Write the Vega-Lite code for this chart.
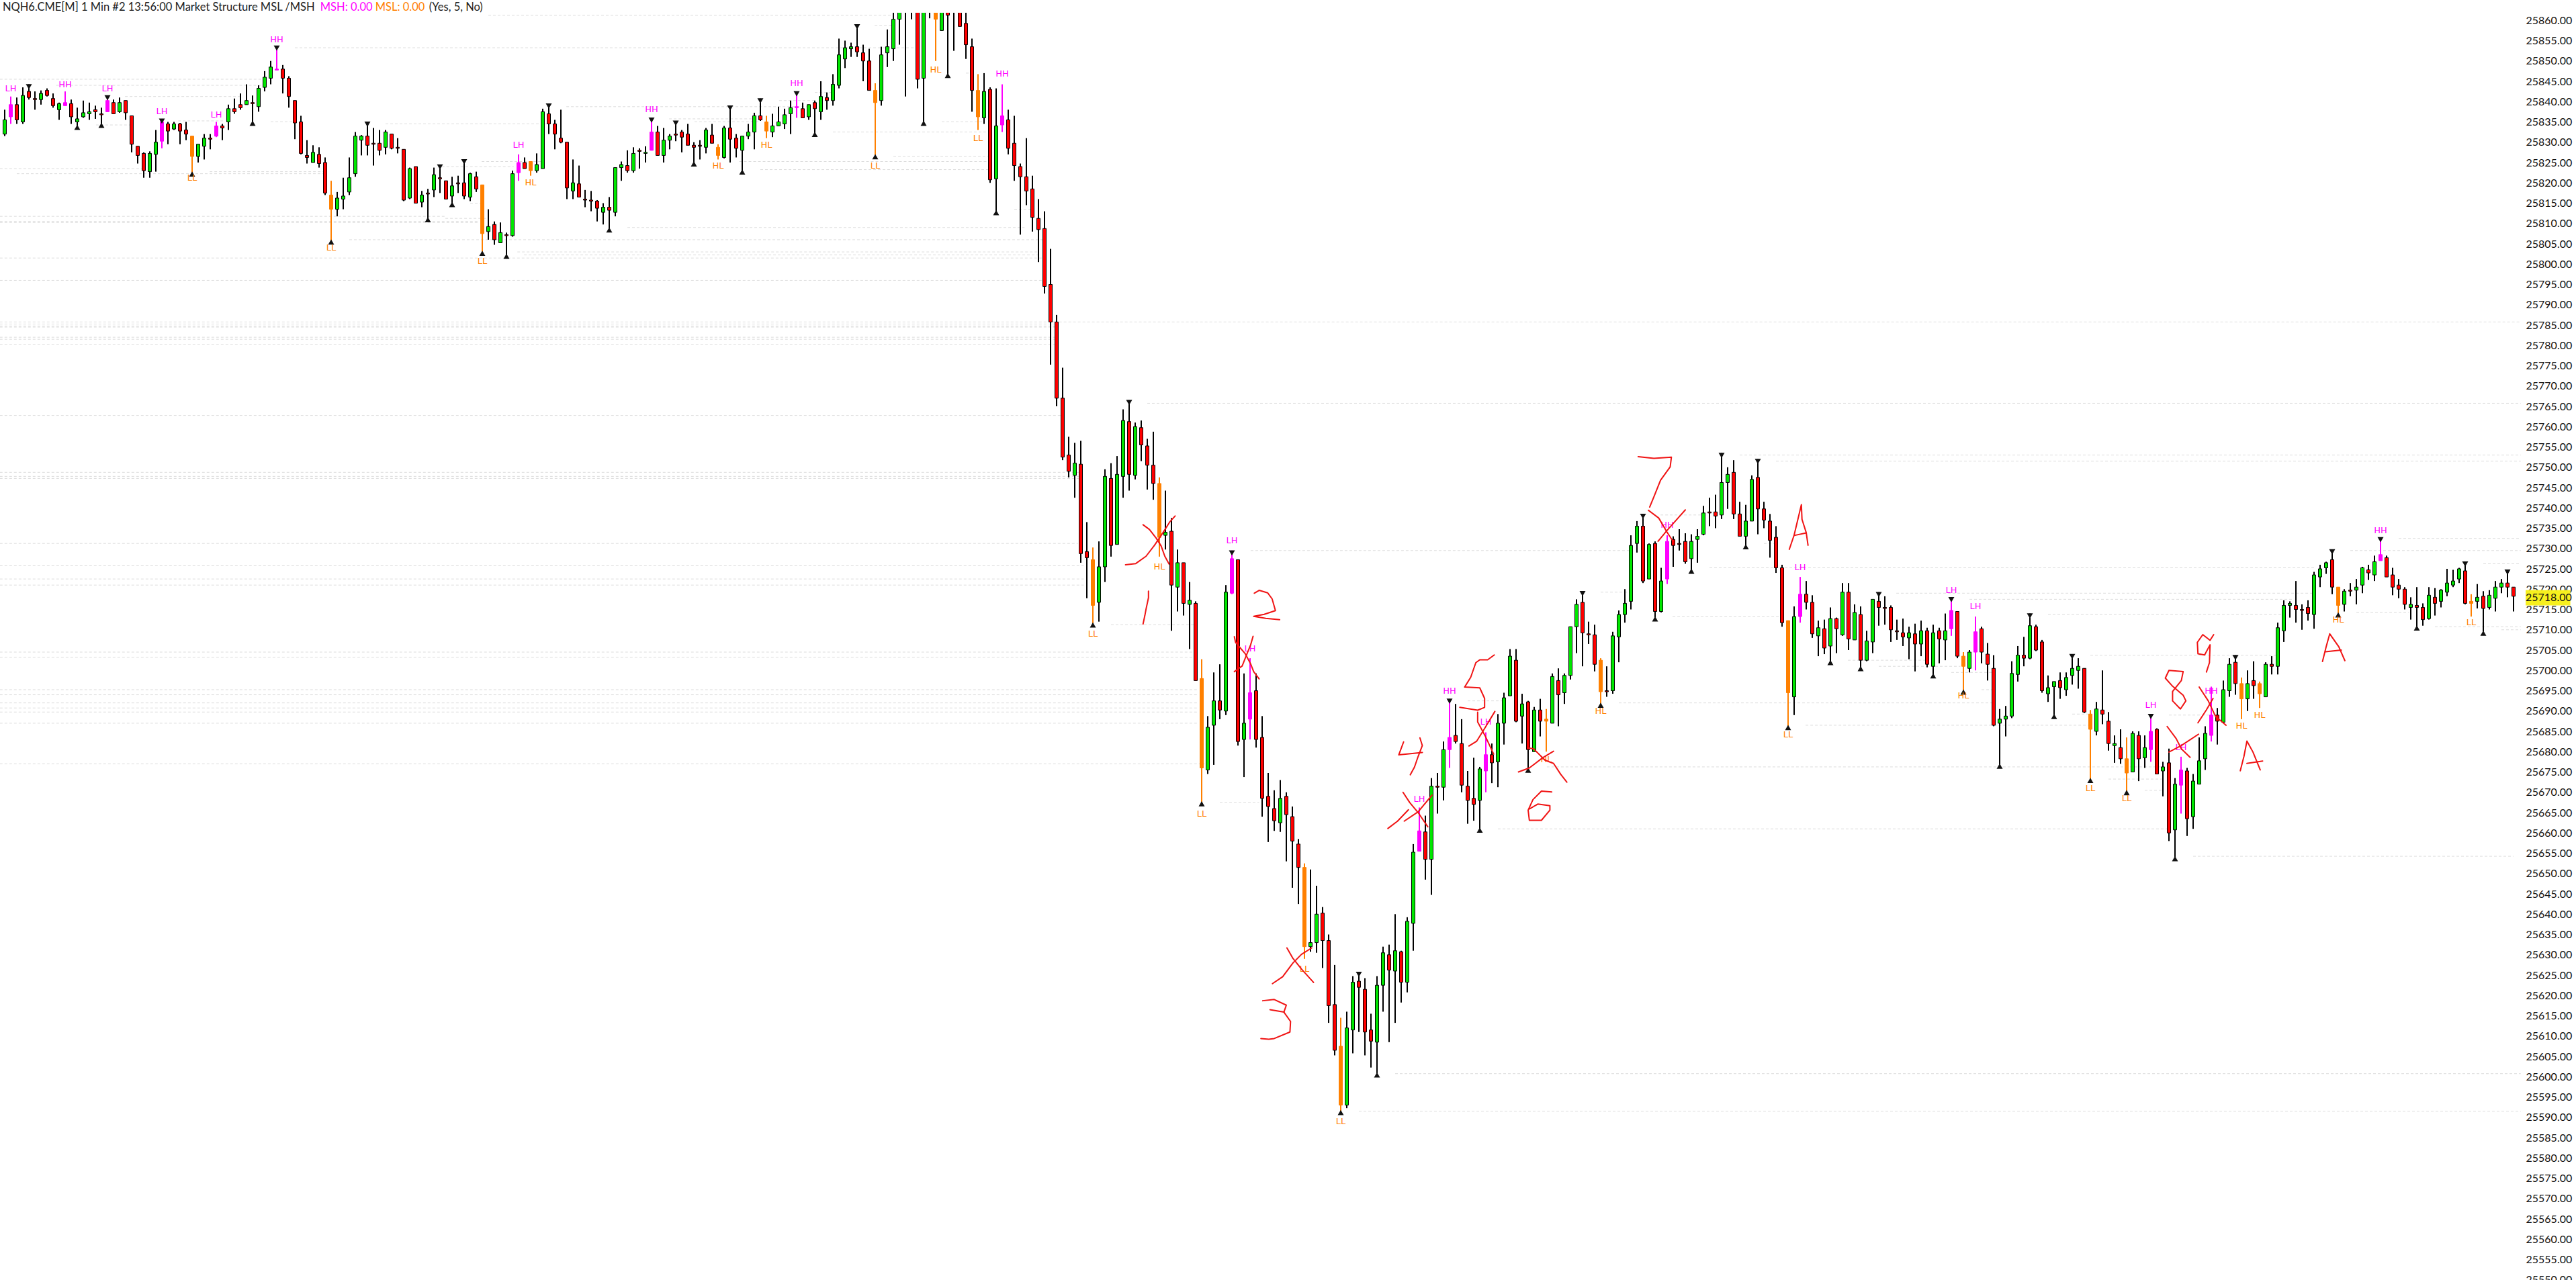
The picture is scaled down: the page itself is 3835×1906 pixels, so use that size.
{"$schema":"https://vega.github.io/schema/vega-lite/v6.json","width":3755,"height":1887,"autosize":{"type":"none"},"padding":{"left":0,"top":19,"right":80,"bottom":0},"background":"white","config":{"view":{"stroke":null},"scale":{"continuousPadding":0}},"resolve":{"axis":{"y":"independent"}},
"datasets":{"candles":[
{"i":0,"o":25832,"h":25838,"l":25831.5,"c":25835.5,"k":"u"},{"i":1,"o":25839.25,"h":25841.25,"l":25834.5,"c":25836.25,"k":"m"},{"i":2,"o":25839.25,"h":25841,"l":25834.5,"c":25835.5,"k":"d"},{"i":3,"o":25835,"h":25843.5,"l":25834.5,"c":25841.5,"k":"u"},{"i":4,"o":25842.5,"h":25844.25,"l":25840.5,"c":25841,"k":"d","t":"a"},{"i":5,"o":25840.75,"h":25842.5,"l":25838,"c":25840.5,"k":"d"},{"i":6,"o":25840.5,"h":25842.75,"l":25839.25,"c":25842,"k":"u"},{"i":7,"o":25842.75,"h":25843.25,"l":25841.25,"c":25841.5,"k":"d"},{"i":8,"o":25840.75,"h":25842,"l":25838.5,"c":25839,"k":"d"},{"i":9,"o":25838,"h":25839.75,"l":25835.5,"c":25839.5,"k":"u"},
{"i":10,"o":25839.75,"h":25842.5,"l":25839,"c":25839,"k":"m"},{"i":11,"o":25839.5,"h":25840.5,"l":25834.5,"c":25836.25,"k":"d"},{"i":12,"o":25835,"h":25838.5,"l":25834,"c":25835.75,"k":"u","t":"b"},{"i":13,"o":25836.25,"h":25840.25,"l":25836,"c":25837.25,"k":"u"},{"i":14,"o":25837,"h":25839.75,"l":25835.5,"c":25837.5,"k":"u"},{"i":15,"o":25838,"h":25839,"l":25835.75,"c":25837.5,"k":"d"},{"i":16,"o":25837,"h":25838.5,"l":25834.5,"c":25836.75,"k":"d","t":"b"},{"i":17,"o":25840.25,"h":25841.5,"l":25837.5,"c":25837.5,"k":"m","t":"a"},{"i":18,"o":25839.75,"h":25840.5,"l":25837,"c":25837,"k":"d"},{"i":19,"o":25837.5,"h":25841,"l":25837.25,"c":25839.75,"k":"u"},
{"i":20,"o":25840.25,"h":25840.25,"l":25835.5,"c":25837.25,"k":"d"},{"i":21,"o":25836.5,"h":25836.5,"l":25827.5,"c":25829.5,"k":"d"},{"i":22,"o":25829,"h":25829,"l":25824.75,"c":25826.75,"k":"d"},{"i":23,"o":25827.25,"h":25827.5,"l":25821.25,"c":25823,"k":"d"},{"i":24,"o":25822.75,"h":25827.75,"l":25821.25,"c":25827.25,"k":"u"},{"i":25,"o":25827,"h":25833,"l":25822.75,"c":25830,"k":"u"},{"i":26,"o":25835,"h":25835.75,"l":25828.5,"c":25830.25,"k":"m","t":"a"},{"i":27,"o":25834.5,"h":25835,"l":25829.5,"c":25832.75,"k":"d"},{"i":28,"o":25833.25,"h":25835,"l":25833,"c":25834.5,"k":"u"},{"i":29,"o":25834.5,"h":25834.75,"l":25829.5,"c":25832.75,"k":"d"},
{"i":30,"o":25833,"h":25835,"l":25830.5,"c":25832,"k":"d"},{"i":31,"o":25831.5,"h":25831.5,"l":25822.5,"c":25826.5,"k":"l","t":"b"},{"i":32,"o":25826.5,"h":25829.5,"l":25825,"c":25829.5,"k":"u"},{"i":33,"o":25829,"h":25832,"l":25825.75,"c":25831,"k":"u"},{"i":34,"o":25831,"h":25832,"l":25828.25,"c":25830.75,"k":"d"},{"i":35,"o":25834,"h":25835,"l":25831.25,"c":25831.5,"k":"m"},{"i":36,"o":25834,"h":25834.5,"l":25830.5,"c":25833.5,"k":"d"},{"i":37,"o":25835,"h":25839.25,"l":25833,"c":25838.25,"k":"u"},{"i":38,"o":25838.25,"h":25840.75,"l":25837,"c":25837.5,"k":"d"},{"i":39,"o":25839.25,"h":25842,"l":25838,"c":25838.5,"k":"d"},
{"i":40,"o":25839.25,"h":25844.25,"l":25839.25,"c":25840.25,"k":"u"},{"i":41,"o":25839.75,"h":25841.5,"l":25835,"c":25839.5,"k":"d","t":"b"},{"i":42,"o":25838.75,"h":25844,"l":25837.5,"c":25843.25,"k":"u"},{"i":43,"o":25843.5,"h":25847.5,"l":25842.5,"c":25846,"k":"u"},{"i":44,"o":25845.75,"h":25850,"l":25844.25,"c":25848.5,"k":"u"},{"i":45,"o":25848,"h":25853.75,"l":25847.75,"c":25847.75,"k":"m","t":"a"},{"i":46,"o":25848,"h":25849,"l":25842,"c":25845.75,"k":"d"},{"i":47,"o":25845.75,"h":25846.25,"l":25838.5,"c":25841.25,"k":"d"},{"i":48,"o":25840.25,"h":25840.25,"l":25830.75,"c":25834.75,"k":"d"},{"i":49,"o":25835,"h":25836.5,"l":25827,"c":25827.25,"k":"d"},
{"i":50,"o":25826.75,"h":25830.5,"l":25824.75,"c":25826.25,"k":"d"},{"i":51,"o":25825,"h":25829.25,"l":25825,"c":25827.5,"k":"u"},{"i":52,"o":25827,"h":25828.75,"l":25823.75,"c":25824.75,"k":"d"},{"i":53,"o":25825,"h":25826.25,"l":25817,"c":25817.5,"k":"d"},{"i":54,"o":25817,"h":25820.5,"l":25805.75,"c":25813.5,"k":"l","t":"b"},{"i":55,"o":25813.5,"h":25817.75,"l":25811.75,"c":25816.25,"k":"u"},{"i":56,"o":25816,"h":25821.25,"l":25813.5,"c":25816.75,"k":"u"},{"i":57,"o":25817.75,"h":25826.25,"l":25817,"c":25821.25,"k":"u"},{"i":58,"o":25822.25,"h":25832.5,"l":25821.5,"c":25831.5,"k":"u"},{"i":59,"o":25830.5,"h":25831.75,"l":25826.75,"c":25831.5,"k":"u"},
{"i":60,"o":25831.5,"h":25835,"l":25826.75,"c":25829.25,"k":"d","t":"a"},{"i":61,"o":25829.75,"h":25833.5,"l":25824.25,"c":25829.5,"k":"d"},{"i":62,"o":25829.75,"h":25833,"l":25826.75,"c":25828,"k":"d"},{"i":63,"o":25828.75,"h":25833,"l":25827,"c":25832.5,"k":"u"},{"i":64,"o":25832,"h":25832,"l":25828.25,"c":25828.5,"k":"d"},{"i":65,"o":25828.75,"h":25831,"l":25827.25,"c":25828.5,"k":"d"},{"i":66,"o":25828.25,"h":25828.25,"l":25815.5,"c":25815.75,"k":"d"},{"i":67,"o":25816.25,"h":25823.75,"l":25816,"c":25823.5,"k":"u"},{"i":68,"o":25824,"h":25824,"l":25815,"c":25815,"k":"d"},{"i":69,"o":25815.25,"h":25818,"l":25814,"c":25817,"k":"u"},
{"i":70,"o":25817.5,"h":25818.5,"l":25811.25,"c":25817.25,"k":"d","t":"b"},{"i":71,"o":25818.25,"h":25823.75,"l":25816.5,"c":25822,"k":"u"},{"i":72,"o":25821.25,"h":25824.5,"l":25817.5,"c":25821,"k":"d","t":"a"},{"i":73,"o":25820.5,"h":25820.5,"l":25816,"c":25816,"k":"d"},{"i":74,"o":25816.75,"h":25821.5,"l":25815,"c":25819.25,"k":"u","t":"b"},{"i":75,"o":25820,"h":25821.75,"l":25817.5,"c":25819.75,"k":"d"},{"i":76,"o":25820,"h":25825.75,"l":25816,"c":25816.75,"k":"d","t":"a"},{"i":77,"o":25816.5,"h":25822.5,"l":25815.5,"c":25822.25,"k":"u"},{"i":78,"o":25821.5,"h":25822.75,"l":25817.75,"c":25818.5,"k":"d"},{"i":79,"o":25819.5,"h":25819.5,"l":25803,"c":25807.5,"k":"l","t":"b"},
{"i":80,"o":25808,"h":25813.5,"l":25806,"c":25809.25,"k":"u"},{"i":81,"o":25809.75,"h":25810.5,"l":25804.75,"c":25806,"k":"d"},{"i":82,"o":25805.25,"h":25810.25,"l":25805.25,"c":25807.75,"k":"u"},{"i":83,"o":25807.25,"h":25807.75,"l":25802.25,"c":25807,"k":"d","t":"b"},{"i":84,"o":25807,"h":25823,"l":25806.75,"c":25822.25,"k":"u"},{"i":85,"o":25825,"h":25827,"l":25820.5,"c":25822.5,"k":"m"},{"i":86,"o":25825,"h":25826.25,"l":25823.5,"c":25823.5,"k":"d"},{"i":87,"o":25825.25,"h":25825.25,"l":25821.75,"c":25823,"k":"l"},{"i":88,"o":25823,"h":25827.25,"l":25822.5,"c":25824.5,"k":"u"},{"i":89,"o":25823.5,"h":25838.25,"l":25823.5,"c":25837.5,"k":"u"},
{"i":90,"o":25837,"h":25839.5,"l":25832,"c":25834.5,"k":"d","t":"a"},{"i":91,"o":25834.5,"h":25835.5,"l":25828.25,"c":25832,"k":"d"},{"i":92,"o":25831,"h":25838,"l":25829.75,"c":25830,"k":"d"},{"i":93,"o":25830,"h":25830,"l":25816,"c":25818.75,"k":"d"},{"i":94,"o":25818,"h":25825.75,"l":25816,"c":25820,"k":"u"},{"i":95,"o":25819.75,"h":25824.25,"l":25816.5,"c":25816.5,"k":"d"},{"i":96,"o":25816,"h":25818.25,"l":25814,"c":25815.75,"k":"d"},{"i":97,"o":25815.75,"h":25818,"l":25813,"c":25815.5,"k":"d"},{"i":98,"o":25815.5,"h":25815.75,"l":25810.5,"c":25813.75,"k":"d"},{"i":99,"o":25812.75,"h":25815,"l":25809.75,"c":25814,"k":"u"},
{"i":100,"o":25814,"h":25816.5,"l":25808.75,"c":25813.25,"k":"d","t":"b"},{"i":101,"o":25812.75,"h":25823.75,"l":25811.75,"c":25823.75,"k":"u"},{"i":102,"o":25823.75,"h":25825.25,"l":25820.5,"c":25824.5,"k":"u"},{"i":103,"o":25824.25,"h":25828,"l":25822.5,"c":25823,"k":"d"},{"i":104,"o":25823,"h":25828.75,"l":25822.5,"c":25827.25,"k":"u"},{"i":105,"o":25828,"h":25828.5,"l":25823.5,"c":25827.75,"k":"d"},{"i":106,"o":25827.25,"h":25829,"l":25825,"c":25827.5,"k":"u"},{"i":107,"o":25832.5,"h":25836,"l":25828,"c":25828,"k":"m","t":"a"},{"i":108,"o":25832.5,"h":25834,"l":25826.75,"c":25826.75,"k":"d"},{"i":109,"o":25826.75,"h":25833.5,"l":25825,"c":25830.5,"k":"u"},
{"i":110,"o":25830.5,"h":25832,"l":25828.25,"c":25831.5,"k":"u"},{"i":111,"o":25832,"h":25835.25,"l":25830.25,"c":25831.75,"k":"d","t":"a"},{"i":112,"o":25832.5,"h":25833,"l":25827.5,"c":25831.25,"k":"d"},{"i":113,"o":25832,"h":25834.5,"l":25829.25,"c":25829.25,"k":"d"},{"i":114,"o":25829.25,"h":25830,"l":25825,"c":25828.75,"k":"d","t":"b"},{"i":115,"o":25829.25,"h":25830.5,"l":25825.75,"c":25829,"k":"d"},{"i":116,"o":25828.75,"h":25833.5,"l":25827.25,"c":25833,"k":"u"},{"i":117,"o":25831.75,"h":25834.5,"l":25829.75,"c":25829.75,"k":"d"},{"i":118,"o":25828.75,"h":25829.5,"l":25825.75,"c":25826.75,"k":"l"},{"i":119,"o":25826.25,"h":25834,"l":25826,"c":25833.5,"k":"u"},
{"i":120,"o":25833.5,"h":25839,"l":25825,"c":25830.75,"k":"d","t":"a"},{"i":121,"o":25831,"h":25832,"l":25826.25,"c":25828.5,"k":"d"},{"i":122,"o":25828,"h":25831.5,"l":25823,"c":25831.5,"k":"u","t":"b"},{"i":123,"o":25831.5,"h":25834.5,"l":25830.75,"c":25832.5,"k":"u"},{"i":124,"o":25832.5,"h":25837.25,"l":25828.25,"c":25836.5,"k":"u"},{"i":125,"o":25836.5,"h":25840.75,"l":25835.25,"c":25835.5,"k":"d","t":"a"},{"i":126,"o":25835,"h":25836.5,"l":25831,"c":25832.75,"k":"l"},{"i":127,"o":25832.5,"h":25837,"l":25831.25,"c":25834,"k":"u"},{"i":128,"o":25834,"h":25838.75,"l":25834,"c":25835,"k":"u"},{"i":129,"o":25834.5,"h":25838.25,"l":25833.25,"c":25836.75,"k":"u"},
{"i":130,"o":25837,"h":25840.25,"l":25832,"c":25838.5,"k":"u"},{"i":131,"o":25838.75,"h":25842.5,"l":25836,"c":25838.5,"k":"m","t":"a"},{"i":132,"o":25838.25,"h":25839.75,"l":25836,"c":25836,"k":"d"},{"i":133,"o":25836.25,"h":25839.25,"l":25835.5,"c":25839.25,"k":"u"},{"i":134,"o":25839.75,"h":25840.25,"l":25832.25,"c":25838.25,"k":"d","t":"b"},{"i":135,"o":25837.5,"h":25845,"l":25835.5,"c":25841.25,"k":"u"},{"i":136,"o":25841,"h":25842.25,"l":25838,"c":25840.25,"k":"d"},{"i":137,"o":25840.25,"h":25846.75,"l":25839,"c":25844.25,"k":"u"},{"i":138,"o":25844,"h":25855.5,"l":25843.25,"c":25851.5,"k":"u"},{"i":139,"o":25850.5,"h":25855,"l":25848.25,"c":25853.25,"k":"u"},
{"i":140,"o":25853,"h":25854.5,"l":25851,"c":25853.5,"k":"u"},{"i":141,"o":25853.5,"h":25859,"l":25851,"c":25852.25,"k":"d","t":"a"},{"i":142,"o":25852,"h":25854,"l":25845,"c":25850,"k":"d"},{"i":143,"o":25850,"h":25853,"l":25842.75,"c":25842.75,"k":"d"},{"i":144,"o":25842.75,"h":25844.5,"l":25826.75,"c":25839.75,"k":"l","t":"b"},{"i":145,"o":25840.25,"h":25853.5,"l":25839,"c":25851.5,"k":"u"},{"i":146,"o":25852,"h":25857.75,"l":25848.5,"c":25853.5,"k":"u"},{"i":147,"o":25853,"h":25862.25,"l":25850,"c":25860.25,"k":"u"},{"i":148,"o":25860.25,"h":25864,"l":25854,"c":25863,"k":"u"},{"i":149,"o":25863,"h":25864,"l":25841.25,"c":25862.75,"k":"d"},
{"i":150,"o":25863,"h":25864,"l":25860.25,"c":25862.75,"k":"d"},{"i":151,"o":25863,"h":25864,"l":25843.25,"c":25845.5,"k":"d"},{"i":152,"o":25845.75,"h":25864,"l":25835,"c":25863,"k":"u","t":"b"},{"i":153,"o":25863,"h":25864,"l":25860.5,"c":25862.75,"k":"d"},{"i":154,"o":25863,"h":25864,"l":25850,"c":25860.25,"k":"l"},{"i":155,"o":25857.5,"h":25864,"l":25857.5,"c":25863,"k":"u"},{"i":156,"o":25863,"h":25864,"l":25846.75,"c":25861.25,"k":"d","t":"b"},{"i":157,"o":25863,"h":25864,"l":25852.5,"c":25862.75,"k":"d"},{"i":158,"o":25863,"h":25864,"l":25858.5,"c":25858.5,"k":"d"},{"i":159,"o":25859.25,"h":25862.5,"l":25850.5,"c":25854,"k":"d"},
{"i":160,"o":25853.5,"h":25855.5,"l":25837.5,"c":25842.75,"k":"d"},{"i":161,"o":25842.75,"h":25846.75,"l":25833,"c":25836.25,"k":"l"},{"i":162,"o":25836,"h":25847,"l":25834.5,"c":25842.5,"k":"u"},{"i":163,"o":25843,"h":25843.5,"l":25820,"c":25820.75,"k":"d"},{"i":164,"o":25821,"h":25843.25,"l":25813,"c":25834,"k":"u","t":"b"},{"i":165,"o":25836.5,"h":25844.25,"l":25832.5,"c":25834.25,"k":"m"},{"i":166,"o":25835.5,"h":25838,"l":25827,"c":25828.5,"k":"d"},{"i":167,"o":25829.75,"h":25836.5,"l":25820.5,"c":25824.25,"k":"d"},{"i":168,"o":25824,"h":25824.75,"l":25807.25,"c":25821.5,"k":"d"},{"i":169,"o":25821.5,"h":25831,"l":25814.5,"c":25818,"k":"d"},
{"i":170,"o":25818.5,"h":25821.75,"l":25808,"c":25811.5,"k":"d"},{"i":171,"o":25811.25,"h":25816,"l":25800.5,"c":25808.5,"k":"d"},{"i":172,"o":25808.75,"h":25813,"l":25792.75,"c":25794.5,"k":"d"},{"i":173,"o":25795,"h":25803.75,"l":25775.25,"c":25785.75,"k":"d"},{"i":174,"o":25785.75,"h":25787.5,"l":25765,"c":25767,"k":"d"},{"i":175,"o":25767,"h":25774.5,"l":25751.75,"c":25752.5,"k":"d"},{"i":176,"o":25753,"h":25757.5,"l":25747.5,"c":25749,"k":"d"},{"i":177,"o":25748,"h":25756,"l":25742.5,"c":25751,"k":"u"},{"i":178,"o":25750.75,"h":25756.5,"l":25726.5,"c":25728.75,"k":"d"},{"i":179,"o":25729.25,"h":25736.5,"l":25717.75,"c":25727.75,"k":"d"},
{"i":180,"o":25727.25,"h":25730.25,"l":25711.5,"c":25716,"k":"l","t":"b"},{"i":181,"o":25716.75,"h":25731.75,"l":25712,"c":25725.5,"k":"u"},{"i":182,"o":25725.5,"h":25749.5,"l":25721.75,"c":25747.75,"k":"u"},{"i":183,"o":25747.25,"h":25751,"l":25728,"c":25730.75,"k":"d"},{"i":184,"o":25731,"h":25752.75,"l":25731,"c":25748.25,"k":"u"},{"i":185,"o":25747.75,"h":25764.25,"l":25742.5,"c":25761.5,"k":"u"},{"i":186,"o":25761.25,"h":25766.5,"l":25744.25,"c":25748.25,"k":"d","t":"a"},{"i":187,"o":25748,"h":25761,"l":25747,"c":25760,"k":"u"},{"i":188,"o":25759.75,"h":25761.5,"l":25751.5,"c":25755.5,"k":"d"},{"i":189,"o":25755.25,"h":25757,"l":25744.5,"c":25750.5,"k":"d"},
{"i":190,"o":25750.5,"h":25758.75,"l":25742,"c":25746,"k":"d"},{"i":191,"o":25746,"h":25747.5,"l":25728,"c":25732.75,"k":"l"},{"i":192,"o":25733.25,"h":25744.25,"l":25729.75,"c":25734,"k":"u"},{"i":193,"o":25734.25,"h":25737.5,"l":25709.75,"c":25721,"k":"d"},{"i":194,"o":25720.5,"h":25729.75,"l":25714.5,"c":25726.5,"k":"u"},{"i":195,"o":25726.5,"h":25726.5,"l":25713.5,"c":25716.5,"k":"d"},{"i":196,"o":25716.25,"h":25721.75,"l":25705.25,"c":25717.25,"k":"u"},{"i":197,"o":25716.5,"h":25717,"l":25697.5,"c":25697.5,"k":"d"},{"i":198,"o":25698,"h":25702.75,"l":25667.5,"c":25676,"k":"l","t":"b"},{"i":199,"o":25675.5,"h":25688.75,"l":25674.5,"c":25686,"k":"u"},
{"i":200,"o":25686.5,"h":25699.5,"l":25676.75,"c":25692.5,"k":"u"},{"i":201,"o":25692.5,"h":25701.5,"l":25688,"c":25690.25,"k":"d"},{"i":202,"o":25690,"h":25721,"l":25689,"c":25719.25,"k":"u"},{"i":203,"o":25727.5,"h":25729.5,"l":25718.75,"c":25719,"k":"m","t":"a"},{"i":204,"o":25727.25,"h":25727.25,"l":25681.5,"c":25682.5,"k":"d"},{"i":205,"o":25683,"h":25699.25,"l":25673.75,"c":25687,"k":"u"},{"i":206,"o":25694.5,"h":25703,"l":25683,"c":25688,"k":"m"},{"i":207,"o":25695,"h":25699.25,"l":25681,"c":25683,"k":"d"},{"i":208,"o":25683.5,"h":25688.75,"l":25664,"c":25668.5,"k":"d"},{"i":209,"o":25669,"h":25674.75,"l":25657.75,"c":25666.5,"k":"d"},
{"i":210,"o":25666,"h":25670.5,"l":25660.5,"c":25663,"k":"d"},{"i":211,"o":25662.5,"h":25673,"l":25660.25,"c":25668.5,"k":"u"},{"i":212,"o":25669,"h":25670,"l":25653,"c":25664.5,"k":"d"},{"i":213,"o":25664,"h":25666.5,"l":25646.5,"c":25658,"k":"d"},{"i":214,"o":25657.25,"h":25658.5,"l":25642.5,"c":25651.5,"k":"d"},{"i":215,"o":25651.5,"h":25652.5,"l":25629,"c":25632,"k":"l"},{"i":216,"o":25632,"h":25651,"l":25630.75,"c":25633,"k":"u"},{"i":217,"o":25633,"h":25647,"l":25630.5,"c":25640,"k":"u"},{"i":218,"o":25640.25,"h":25641.75,"l":25626.75,"c":25633.5,"k":"d"},{"i":219,"o":25633.5,"h":25635,"l":25613.25,"c":25617.5,"k":"d"},
{"i":220,"o":25617.75,"h":25627.5,"l":25605.25,"c":25606.5,"k":"d"},{"i":221,"o":25607.5,"h":25614.5,"l":25591.5,"c":25593,"k":"l","t":"b"},{"i":222,"o":25593,"h":25616,"l":25592.25,"c":25612,"k":"u"},{"i":223,"o":25611.5,"h":25624.75,"l":25605.75,"c":25623.25,"k":"u"},{"i":224,"o":25623.5,"h":25625.75,"l":25611,"c":25622,"k":"d","t":"a"},{"i":225,"o":25621.5,"h":25624.25,"l":25605.25,"c":25611,"k":"d"},{"i":226,"o":25611.5,"h":25615.5,"l":25602.25,"c":25608.75,"k":"d"},{"i":227,"o":25608.5,"h":25624.75,"l":25600.75,"c":25622.5,"k":"u","t":"b"},{"i":228,"o":25622.5,"h":25632,"l":25616,"c":25630.5,"k":"u"},{"i":229,"o":25630,"h":25632.5,"l":25608.5,"c":25626.25,"k":"d"},
{"i":230,"o":25626,"h":25640,"l":25613.25,"c":25631,"k":"u"},{"i":231,"o":25630.75,"h":25631,"l":25618.25,"c":25623.25,"k":"d"},{"i":232,"o":25623.25,"h":25639.25,"l":25620.75,"c":25638.25,"k":"u"},{"i":233,"o":25637.75,"h":25657.25,"l":25631,"c":25655.25,"k":"u"},{"i":234,"o":25660.5,"h":25666.25,"l":25655.5,"c":25655.5,"k":"m"},{"i":235,"o":25660.25,"h":25664.25,"l":25648.5,"c":25653.5,"k":"d"},{"i":236,"o":25653.5,"h":25673.5,"l":25644.75,"c":25671.5,"k":"u"},{"i":237,"o":25671.5,"h":25674.75,"l":25664.75,"c":25671.25,"k":"d"},{"i":238,"o":25671.25,"h":25682.5,"l":25668,"c":25680.5,"k":"u"},{"i":239,"o":25683.5,"h":25693,"l":25676,"c":25680.5,"k":"m","t":"a"},
{"i":240,"o":25684,"h":25691.75,"l":25682,"c":25682.5,"k":"d"},{"i":241,"o":25682,"h":25688,"l":25670,"c":25671.75,"k":"d"},{"i":242,"o":25671.5,"h":25675.25,"l":25662.25,"c":25668,"k":"d"},{"i":243,"o":25668.5,"h":25678.5,"l":25663,"c":25667,"k":"d"},{"i":244,"o":25668,"h":25676.25,"l":25661,"c":25675.75,"k":"u","t":"b"},{"i":245,"o":25679.25,"h":25684.75,"l":25670,"c":25675.25,"k":"m"},{"i":246,"o":25679.25,"h":25682,"l":25672.25,"c":25677.25,"k":"d"},{"i":247,"o":25677.5,"h":25689.25,"l":25671.25,"c":25687,"k":"u"},{"i":248,"o":25687,"h":25694.5,"l":25681.75,"c":25693.25,"k":"u"},{"i":249,"o":25693.75,"h":25705.25,"l":25693.75,"c":25703.5,"k":"u"},
{"i":250,"o":25702.5,"h":25705.25,"l":25687.25,"c":25687.5,"k":"d"},{"i":251,"o":25688.75,"h":25694.25,"l":25682,"c":25691.75,"k":"u"},{"i":252,"o":25692.25,"h":25692.5,"l":25675.75,"c":25680.5,"k":"d","t":"b"},{"i":253,"o":25680,"h":25691,"l":25680,"c":25690.25,"k":"u"},{"i":254,"o":25690.25,"h":25693,"l":25683.75,"c":25687.5,"k":"d"},{"i":255,"o":25688,"h":25690.5,"l":25680,"c":25687.5,"k":"l"},{"i":256,"o":25687,"h":25699.25,"l":25687,"c":25698.5,"k":"u"},{"i":257,"o":25697.5,"h":25700.5,"l":25686.25,"c":25694,"k":"d"},{"i":258,"o":25694.5,"h":25699.25,"l":25691.75,"c":25698.75,"k":"u"},{"i":259,"o":25698.75,"h":25710.75,"l":25697.75,"c":25710.75,"k":"u"},
{"i":260,"o":25710.75,"h":25717.5,"l":25704.25,"c":25716.25,"k":"u"},{"i":261,"o":25716.75,"h":25719.5,"l":25701,"c":25709.25,"k":"d","t":"a"},{"i":262,"o":25709,"h":25712,"l":25706.5,"c":25708.75,"k":"d"},{"i":263,"o":25708.75,"h":25711.25,"l":25699.75,"c":25701.5,"k":"d"},{"i":264,"o":25702.5,"h":25703,"l":25691.75,"c":25694.75,"k":"l","t":"b"},{"i":265,"o":25695,"h":25701,"l":25693.5,"c":25694.75,"k":"d"},{"i":266,"o":25695,"h":25709.5,"l":25694.25,"c":25708.5,"k":"u"},{"i":267,"o":25708.25,"h":25714.75,"l":25702,"c":25713.75,"k":"u"},{"i":268,"o":25713.75,"h":25720,"l":25711.75,"c":25716.5,"k":"u"},{"i":269,"o":25717,"h":25733.25,"l":25715,"c":25730.75,"k":"u"},
{"i":270,"o":25731.25,"h":25736.75,"l":25729,"c":25735.5,"k":"u"},{"i":271,"o":25735.5,"h":25738.5,"l":25721.5,"c":25722,"k":"d","t":"a"},{"i":272,"o":25722.5,"h":25731.25,"l":25722.5,"c":25731,"k":"u"},{"i":273,"o":25731.25,"h":25731.75,"l":25713,"c":25714.5,"k":"d","t":"b"},{"i":274,"o":25714.5,"h":25725.25,"l":25714.25,"c":25722,"k":"u"},{"i":275,"o":25731.75,"h":25733.25,"l":25721.25,"c":25722.5,"k":"m"},{"i":276,"o":25732.25,"h":25733,"l":25725.5,"c":25730.75,"k":"d"},{"i":277,"o":25731.25,"h":25734.75,"l":25729.5,"c":25731,"k":"d"},{"i":278,"o":25731.75,"h":25733.75,"l":25726.25,"c":25726.75,"k":"d"},{"i":279,"o":25727.5,"h":25733.5,"l":25724.75,"c":25731.75,"k":"u","t":"b"},
{"i":280,"o":25732.25,"h":25734.75,"l":25726.5,"c":25733,"k":"u"},{"i":281,"o":25733.5,"h":25740.5,"l":25733.25,"c":25738.75,"k":"u"},{"i":282,"o":25739,"h":25742.5,"l":25735.5,"c":25738.75,"k":"d"},{"i":283,"o":25739,"h":25743.25,"l":25735,"c":25738,"k":"d"},{"i":284,"o":25738.25,"h":25753.5,"l":25737.25,"c":25746.25,"k":"u","t":"a"},{"i":285,"o":25746.25,"h":25750,"l":25739.75,"c":25748.25,"k":"u"},{"i":286,"o":25748.75,"h":25751.75,"l":25737.25,"c":25738.5,"k":"d"},{"i":287,"o":25738.5,"h":25741.5,"l":25733,"c":25733,"k":"d"},{"i":288,"o":25733,"h":25740.75,"l":25730.75,"c":25736.75,"k":"u","t":"b"},{"i":289,"o":25736.75,"h":25748,"l":25736.75,"c":25747,"k":"u"},
{"i":290,"o":25747.5,"h":25752,"l":25733.5,"c":25739.75,"k":"d","t":"a"},{"i":291,"o":25739.75,"h":25741.5,"l":25735,"c":25737,"k":"d"},{"i":292,"o":25736.75,"h":25738.5,"l":25727.75,"c":25732,"k":"d"},{"i":293,"o":25732.75,"h":25735.5,"l":25724,"c":25725.25,"k":"d"},{"i":294,"o":25725.25,"h":25726,"l":25710.75,"c":25711.75,"k":"d"},{"i":295,"o":25712.25,"h":25712.25,"l":25686.25,"c":25694.5,"k":"l","t":"b"},{"i":296,"o":25693.5,"h":25715.75,"l":25689,"c":25713.25,"k":"u"},{"i":297,"o":25718.75,"h":25723,"l":25711.75,"c":25713.25,"k":"m"},{"i":298,"o":25718.75,"h":25722,"l":25715,"c":25716.75,"k":"d"},{"i":299,"o":25716.75,"h":25718.5,"l":25708,"c":25709,"k":"d"},
{"i":300,"o":25708.5,"h":25712.25,"l":25703.5,"c":25710.5,"k":"u"},{"i":301,"o":25710.25,"h":25712.5,"l":25704,"c":25705.5,"k":"d"},{"i":302,"o":25706,"h":25715.5,"l":25702.25,"c":25712.75,"k":"u","t":"b"},{"i":303,"o":25712.75,"h":25713,"l":25704.25,"c":25710.25,"k":"d"},{"i":304,"o":25708.75,"h":25721.5,"l":25708.5,"c":25719.25,"k":"u"},{"i":305,"o":25719.25,"h":25721.5,"l":25705,"c":25707.75,"k":"d"},{"i":306,"o":25707.5,"h":25716.25,"l":25707.5,"c":25714.25,"k":"u"},{"i":307,"o":25713.75,"h":25715.75,"l":25700.75,"c":25702.5,"k":"d","t":"b"},{"i":308,"o":25702.5,"h":25709.75,"l":25702.25,"c":25707.25,"k":"u"},{"i":309,"o":25707,"h":25717.5,"l":25704.25,"c":25717.5,"k":"u"},
{"i":310,"o":25717,"h":25719.25,"l":25711,"c":25715.5,"k":"d","t":"a"},{"i":311,"o":25715.5,"h":25718.25,"l":25711.25,"c":25715.25,"k":"d"},{"i":312,"o":25715.5,"h":25716,"l":25707,"c":25710,"k":"d"},{"i":313,"o":25709.75,"h":25712.5,"l":25707.5,"c":25709.5,"k":"d"},{"i":314,"o":25709.25,"h":25712.75,"l":25706,"c":25708.25,"k":"d"},{"i":315,"o":25708,"h":25710.75,"l":25702.75,"c":25709.25,"k":"u"},{"i":316,"o":25709,"h":25711.5,"l":25699.75,"c":25706.5,"k":"d"},{"i":317,"o":25706.5,"h":25712.25,"l":25703.5,"c":25709.75,"k":"u"},{"i":318,"o":25709.75,"h":25710.5,"l":25700.75,"c":25701.5,"k":"d"},{"i":319,"o":25701,"h":25711.25,"l":25699,"c":25709.25,"k":"u","t":"b"},
{"i":320,"o":25709.75,"h":25710.5,"l":25701.75,"c":25707.75,"k":"d"},{"i":321,"o":25707.5,"h":25714,"l":25702.5,"c":25709.75,"k":"u"},{"i":322,"o":25714.75,"h":25718,"l":25708.5,"c":25710.25,"k":"m","t":"a"},{"i":323,"o":25714.5,"h":25714.5,"l":25703,"c":25703.5,"k":"d"},{"i":324,"o":25703.5,"h":25704.5,"l":25695,"c":25701,"k":"l","t":"b"},{"i":325,"o":25700.5,"h":25705,"l":25699.5,"c":25704.5,"k":"u"},{"i":326,"o":25709.5,"h":25713.25,"l":25700,"c":25704.5,"k":"m"},{"i":327,"o":25710.25,"h":25710.75,"l":25701.75,"c":25704.5,"k":"d"},{"i":328,"o":25704,"h":25706.75,"l":25697.5,"c":25701.5,"k":"d"},{"i":329,"o":25700.5,"h":25703.75,"l":25686.25,"c":25686.5,"k":"d"},
{"i":330,"o":25687,"h":25690.5,"l":25676.75,"c":25688,"k":"u","t":"b"},{"i":331,"o":25688,"h":25691.25,"l":25683.75,"c":25688.75,"k":"u"},{"i":332,"o":25688.75,"h":25702.25,"l":25688.25,"c":25699.25,"k":"u"},{"i":333,"o":25699,"h":25706,"l":25697.25,"c":25703.75,"k":"u"},{"i":334,"o":25703.75,"h":25708.25,"l":25701,"c":25703,"k":"d"},{"i":335,"o":25703,"h":25714,"l":25702.75,"c":25711,"k":"u","t":"a"},{"i":336,"o":25710.75,"h":25711.25,"l":25704.75,"c":25705,"k":"d"},{"i":337,"o":25707,"h":25707.5,"l":25694.5,"c":25695,"k":"d"},{"i":338,"o":25694.25,"h":25698.75,"l":25692.25,"c":25695.75,"k":"u"},{"i":339,"o":25696,"h":25697.25,"l":25689,"c":25697.25,"k":"u","t":"b"},
{"i":340,"o":25697.5,"h":25699.5,"l":25693,"c":25695.75,"k":"d"},{"i":341,"o":25695.25,"h":25699.5,"l":25693.75,"c":25698.25,"k":"u"},{"i":342,"o":25698.75,"h":25704,"l":25696.5,"c":25700.5,"k":"u","t":"a"},{"i":343,"o":25700,"h":25703,"l":25695.5,"c":25701,"k":"u"},{"i":344,"o":25700.5,"h":25700.5,"l":25689.5,"c":25689.75,"k":"d"},{"i":345,"o":25689.25,"h":25690.25,"l":25673.25,"c":25685.5,"k":"l","t":"b"},{"i":346,"o":25685,"h":25692.25,"l":25684,"c":25690.5,"k":"u"},{"i":347,"o":25690.25,"h":25700,"l":25686.75,"c":25689.25,"k":"d"},{"i":348,"o":25687.5,"h":25689.75,"l":25680.25,"c":25682,"k":"d"},{"i":349,"o":25681.5,"h":25684,"l":25677.25,"c":25682,"k":"u"},
{"i":350,"o":25681,"h":25685.5,"l":25677,"c":25678.25,"k":"d"},{"i":351,"o":25678.25,"h":25683.5,"l":25670.25,"c":25674.75,"k":"l","t":"b"},{"i":352,"o":25675,"h":25685,"l":25675,"c":25684.5,"k":"u"},{"i":353,"o":25684,"h":25685,"l":25672.75,"c":25678.25,"k":"d"},{"i":354,"o":25678.5,"h":25684,"l":25676,"c":25681,"k":"u"},{"i":355,"o":25685,"h":25689.25,"l":25677.5,"c":25680.5,"k":"m","t":"a"},{"i":356,"o":25685.5,"h":25685.75,"l":25674.5,"c":25674.5,"k":"d"},{"i":357,"o":25675.25,"h":25677.5,"l":25669,"c":25676.25,"k":"u"},{"i":358,"o":25677.25,"h":25680.75,"l":25658,"c":25660,"k":"d"},{"i":359,"o":25660.75,"h":25673.5,"l":25654,"c":25672,"k":"u","t":"b"},
{"i":360,"o":25675.5,"h":25678.75,"l":25664.75,"c":25671.75,"k":"m"},{"i":361,"o":25675.25,"h":25676,"l":25659.25,"c":25663.5,"k":"d"},{"i":362,"o":25664,"h":25674.5,"l":25661,"c":25672.75,"k":"u"},{"i":363,"o":25672,"h":25683.5,"l":25672,"c":25677.75,"k":"u"},{"i":364,"o":25678.25,"h":25686.25,"l":25675.5,"c":25684.5,"k":"u"},{"i":365,"o":25689,"h":25696,"l":25682.5,"c":25684,"k":"m"},{"i":366,"o":25689,"h":25690.75,"l":25681.75,"c":25687.5,"k":"d"},{"i":367,"o":25687.25,"h":25697.5,"l":25687.25,"c":25695.25,"k":"u"},{"i":368,"o":25695,"h":25703,"l":25693.5,"c":25701.5,"k":"u"},{"i":369,"o":25702,"h":25703.75,"l":25694,"c":25696.75,"k":"d","t":"a"},
{"i":370,"o":25696.75,"h":25698.25,"l":25688,"c":25693,"k":"l"},{"i":371,"o":25693,"h":25700,"l":25690,"c":25696.75,"k":"u"},{"i":372,"o":25697.5,"h":25702.25,"l":25693,"c":25696.25,"k":"d"},{"i":373,"o":25696.75,"h":25697.25,"l":25690.75,"c":25694.25,"k":"l"},{"i":374,"o":25693.5,"h":25702,"l":25693.5,"c":25701.5,"k":"u"},{"i":375,"o":25701.5,"h":25703.5,"l":25699,"c":25701,"k":"d"},{"i":376,"o":25701,"h":25711.75,"l":25699,"c":25710.5,"k":"u"},{"i":377,"o":25709.75,"h":25717.25,"l":25707,"c":25716,"k":"u"},{"i":378,"o":25716,"h":25717,"l":25713,"c":25716.5,"k":"u"},{"i":379,"o":25716,"h":25722,"l":25711.75,"c":25715,"k":"d"},
{"i":380,"o":25715,"h":25716.25,"l":25710,"c":25714.75,"k":"d"},{"i":381,"o":25715.5,"h":25717.25,"l":25712.25,"c":25714,"k":"d"},{"i":382,"o":25713.75,"h":25724.25,"l":25710.25,"c":25723.5,"k":"u"},{"i":383,"o":25723,"h":25726,"l":25720.5,"c":25725,"k":"u"},{"i":384,"o":25725.25,"h":25726.75,"l":25723.75,"c":25726.5,"k":"u"},{"i":385,"o":25727.25,"h":25729.75,"l":25718.75,"c":25720.5,"k":"d","t":"a"},{"i":386,"o":25720.5,"h":25720.5,"l":25714,"c":25716,"k":"l","t":"b"},{"i":387,"o":25716.25,"h":25720,"l":25714.5,"c":25719.5,"k":"u"},{"i":388,"o":25719.75,"h":25721.5,"l":25718.25,"c":25719.5,"k":"d"},{"i":389,"o":25719.75,"h":25722.5,"l":25716.25,"c":25720.5,"k":"u"},
{"i":390,"o":25721,"h":25725.5,"l":25719,"c":25725.25,"k":"u"},{"i":391,"o":25724.75,"h":25726,"l":25722.25,"c":25724,"k":"d"},{"i":392,"o":25723.5,"h":25728.25,"l":25722,"c":25726.75,"k":"u"},{"i":393,"o":25728.5,"h":25732.75,"l":25727,"c":25727,"k":"m","t":"a"},{"i":394,"o":25727.75,"h":25728.25,"l":25723,"c":25723,"k":"d"},{"i":395,"o":25723.5,"h":25725.25,"l":25718.5,"c":25720.5,"k":"d"},{"i":396,"o":25721,"h":25722.5,"l":25717.75,"c":25720,"k":"d"},{"i":397,"o":25720,"h":25720.5,"l":25715,"c":25716.25,"k":"d"},{"i":398,"o":25715.5,"h":25718,"l":25712.5,"c":25716.25,"k":"u"},{"i":399,"o":25716,"h":25720.5,"l":25710.75,"c":25715.5,"k":"d","t":"b"},
{"i":400,"o":25715.5,"h":25716.5,"l":25711,"c":25712.5,"k":"d"},{"i":401,"o":25712.75,"h":25720.5,"l":25712.5,"c":25718.5,"k":"u"},{"i":402,"o":25718,"h":25720.25,"l":25713.5,"c":25716.5,"k":"d"},{"i":403,"o":25717,"h":25720,"l":25715.5,"c":25719.75,"k":"u"},{"i":404,"o":25719.25,"h":25725,"l":25718.25,"c":25721.5,"k":"u"},{"i":405,"o":25721,"h":25724.75,"l":25720.5,"c":25722,"k":"u"},{"i":406,"o":25722.5,"h":25725.25,"l":25721.5,"c":25725,"k":"u"},{"i":407,"o":25724.5,"h":25726.75,"l":25716.25,"c":25716.5,"k":"d","t":"a"},{"i":408,"o":25717,"h":25718.75,"l":25713.25,"c":25716.5,"k":"l"},{"i":409,"o":25717,"h":25721.25,"l":25715.25,"c":25718,"k":"u"},
{"i":410,"o":25718.25,"h":25719.5,"l":25709.5,"c":25715.25,"k":"d","t":"b"},{"i":411,"o":25715.5,"h":25719.75,"l":25715,"c":25718.5,"k":"u"},{"i":412,"o":25717.75,"h":25722,"l":25714.5,"c":25720.5,"k":"u"},{"i":413,"o":25720.5,"h":25722.5,"l":25719,"c":25721.5,"k":"u"},{"i":414,"o":25721.5,"h":25724.75,"l":25718,"c":25720.5,"k":"d","t":"a"},{"i":415,"o":25720.5,"h":25720.5,"l":25714.5,"c":25718.25,"k":"d"}],
"levels":[{"a":80,"b":147,"p":25861.25},{"a":48,"b":151,"p":25853.25},{"a":-0.8,"b":42.9,"p":25845.5},{"a":8.5,"b":42.9,"p":25844},{"a":19.9,"b":38.9,"p":25841.25},{"a":28.7,"b":36.1,"p":25835.25},{"a":44,"b":49.1,"p":25835},{"a":63,"b":89.8,"p":25834.5},{"a":15.1,"b":20.8,"p":25834.25},{"a":78.9,"b":88.7,"p":25825.25},{"a":121.5,"b":162.9,"p":25825.25},{"a":72.3,"b":84.2,"p":25824},{"a":-0.8,"b":23,"p":25823.5},{"a":33.9,"b":52.8,"p":25822.75},{"a":2,"b":52.8,"p":25822.25},{"a":77,"b":78.7,"p":25815},{"a":-0.8,"b":72.9,"p":25811.75},{"a":72.9,"b":79.8,"p":25811.25},{"a":-0.8,"b":78.5,"p":25810.5},{"a":-0.8,"b":78.5,"p":25810.25},{"a":57,"b":172,"p":25806},{"a":84.8,"b":170.9,"p":25803},{"a":85.9,"b":170.9,"p":25802.25},{"a":-0.8,"b":172,"p":25801.5},{"a":-0.8,"b":172,"p":25796},{"a":143.9,"b":147,"p":25858.75},{"a":92.9,"b":133.4,"p":25838.75},{"a":109.9,"b":124.3,"p":25835.75},{"a":114.1,"b":125,"p":25835},{"a":128.1,"b":134,"p":25840.25},{"a":134,"b":136.9,"p":25842.25},{"a":103,"b":168.7,"p":25809},{"a":137,"b":162.3,"p":25832.5},{"a":147,"b":162.9,"p":25826.5},{"a":125,"b":162.9,"p":25823.25},{"a":155,"b":161.8,"p":25835},{"a":159,"b":160,"p":25847},{"a":167,"b":170,"p":25813.5},{"a":174.4,"b":416.2,"p":25785.75},{"a":-0.8,"b":173.7,"p":25785.75},{"a":-0.8,"b":173.7,"p":25785.25},{"a":-0.8,"b":173.7,"p":25784.75},{"a":-0.8,"b":173.7,"p":25784.5},{"a":-0.8,"b":174,"p":25782},{"a":-0.8,"b":174,"p":25781.5},{"a":-0.8,"b":174,"p":25780.25},{"a":-0.8,"b":174.8,"p":25762.75},{"a":189,"b":416.2,"p":25765.75},{"a":-0.8,"b":178,"p":25748.75},{"a":-0.8,"b":178,"p":25747.75},{"a":-0.8,"b":178,"p":25747.25},{"a":-0.8,"b":177.5,"p":25731.25},{"a":-0.8,"b":178.5,"p":25725.75},{"a":-0.8,"b":178.5,"p":25722.5},{"a":-0.8,"b":178.5,"p":25721},{"a":206.1,"b":268.9,"p":25729.5},{"a":183,"b":197.2,"p":25711.25},{"a":-0.8,"b":196.5,"p":25704.5},{"a":-0.8,"b":196.5,"p":25703.25},{"a":-0.8,"b":197.5,"p":25695.25},{"a":-0.8,"b":197.5,"p":25694},{"a":-0.8,"b":197.5,"p":25692},{"a":-0.8,"b":197.5,"p":25690.75},{"a":-0.8,"b":197.5,"p":25689.75},{"a":-0.8,"b":197.5,"p":25687},{"a":-0.8,"b":198.5,"p":25677},{"a":201,"b":207.5,"p":25667.5},{"a":242,"b":247.8,"p":25692.5},{"a":267,"b":328.9,"p":25692},{"a":255.1,"b":356.8,"p":25676.25},{"a":247,"b":358,"p":25661},{"a":230,"b":416.2,"p":25600.75},{"a":224,"b":416.2,"p":25591.5},{"a":287,"b":416.2,"p":25753},{"a":293,"b":416.2,"p":25751.5},{"a":273.9,"b":281,"p":25738.25},{"a":291,"b":293.2,"p":25731.25},{"a":282,"b":382.2,"p":25725.25},{"a":264,"b":269,"p":25719.25},{"a":312.9,"b":381.7,"p":25719},{"a":325,"b":378.7,"p":25717.5},{"a":338,"b":377,"p":25713.75},{"a":275.9,"b":293.8,"p":25713.25},{"a":345,"b":376,"p":25703.75},{"a":304.9,"b":317.9,"p":25702.5},{"a":310,"b":323.5,"p":25701},{"a":322,"b":329.2,"p":25699.5},{"a":327,"b":329,"p":25695.25},{"a":342,"b":344.8,"p":25689.25},{"a":297.9,"b":344.8,"p":25686.5},{"a":396,"b":416.2,"p":25732.5},{"a":388,"b":416.2,"p":25729.5},{"a":410,"b":416.2,"p":25726.25},{"a":389,"b":397.7,"p":25714.25},{"a":402,"b":416.2,"p":25710.75},{"a":413,"b":416.2,"p":25710},{"a":358,"b":367,"p":25689},{"a":348,"b":356.8,"p":25673.25},{"a":354,"b":357,"p":25670.5},{"a":362,"b":415,"p":25654.25}],
"labels":[{"i":1,"p":25843.25,"t":"LH","k":"m"},{"i":10,"p":25844.25,"t":"HH","k":"m"},{"i":17,"p":25843.25,"t":"LH","k":"m"},{"i":26,"p":25837.5,"t":"LH","k":"m"},{"i":35,"p":25836.75,"t":"LH","k":"m"},{"i":45,"p":25855.25,"t":"HH","k":"m"},{"i":31,"p":25821.25,"t":"LL","k":"l"},{"i":54,"p":25804,"t":"LL","k":"l"},{"i":79,"p":25800.75,"t":"LL","k":"l"},{"i":85,"p":25829.25,"t":"LH","k":"m"},{"i":87,"p":25820,"t":"HL","k":"l"},{"i":107,"p":25838,"t":"HH","k":"m"},{"i":131,"p":25844.5,"t":"HH","k":"m"},{"i":118,"p":25824.25,"t":"HL","k":"l"},{"i":126,"p":25829.25,"t":"HL","k":"l"},{"i":144,"p":25824.25,"t":"LL","k":"l"},{"i":154,"p":25847.75,"t":"HL","k":"l"},{"i":161,"p":25831,"t":"LL","k":"l"},{"i":165,"p":25846.75,"t":"HH","k":"m"},{"i":180,"p":25709,"t":"LL","k":"l"},{"i":191,"p":25725.5,"t":"HL","k":"l"},{"i":203,"p":25732,"t":"LH","k":"m"},{"i":206,"p":25705.25,"t":"LH","k":"m"},{"i":198,"p":25664.75,"t":"LL","k":"l"},{"i":239,"p":25695,"t":"HH","k":"m"},{"i":234,"p":25668.25,"t":"LH","k":"m"},{"i":245,"p":25687.25,"t":"LH","k":"m"},{"i":215,"p":25626.5,"t":"LL","k":"l"},{"i":221,"p":25589,"t":"LL","k":"l"},{"i":255,"p":25678,"t":"HL","k":"l"},{"i":264,"p":25690,"t":"HL","k":"l"},{"i":275,"p":25735.75,"t":"HH","k":"m"},{"i":297,"p":25725.25,"t":"LH","k":"m"},{"i":295,"p":25684.25,"t":"LL","k":"l"},{"i":322,"p":25719.75,"t":"LH","k":"m"},{"i":326,"p":25715.75,"t":"LH","k":"m"},{"i":324,"p":25693.75,"t":"HL","k":"l"},{"i":345,"p":25671,"t":"LL","k":"l"},{"i":351,"p":25668.5,"t":"LL","k":"l"},{"i":355,"p":25691.5,"t":"LH","k":"m"},{"i":360,"p":25681,"t":"LH","k":"m"},{"i":365,"p":25695,"t":"HH","k":"m"},{"i":370,"p":25686.25,"t":"HL","k":"l"},{"i":373,"p":25689,"t":"HL","k":"l"},{"i":386,"p":25712.5,"t":"HL","k":"l"},{"i":393,"p":25734.5,"t":"HH","k":"m"},{"i":408,"p":25711.75,"t":"LL","k":"l"}],
"strokes":[
{"s":1,"o":0,"x":188.3,"p":25735.85},{"s":1,"o":1,"x":189.35,"p":25734.7},{"s":1,"o":2,"x":190.5,"p":25732.5},{"s":1,"o":3,"x":191.3,"p":25730.6},{"s":1,"o":4,"x":191.9,"p":25728.1},{"s":1,"o":5,"x":192.6,"p":25726.2},
{"s":2,"o":0,"x":185.4,"p":25726},{"s":2,"o":1,"x":187.1,"p":25726.3},{"s":2,"o":2,"x":188.8,"p":25728.1},{"s":2,"o":3,"x":190.2,"p":25730.8},{"s":2,"o":4,"x":191.6,"p":25733.9},{"s":2,"o":5,"x":192.75,"p":25736.6},{"s":2,"o":6,"x":193.6,"p":25738},
{"s":3,"o":0,"x":189.2,"p":25719.5},{"s":3,"o":1,"x":189.2,"p":25717.9},{"s":3,"o":2,"x":188.8,"p":25715.1},{"s":3,"o":3,"x":188.6,"p":25713.5},{"s":3,"o":4,"x":188.3,"p":25711.4},
{"s":4,"o":0,"x":206.7,"p":25719},{"s":4,"o":1,"x":207.5,"p":25719.7},{"s":4,"o":2,"x":208.9,"p":25719.1},{"s":4,"o":3,"x":209.65,"p":25717.6},{"s":4,"o":4,"x":210.2,"p":25714.7},{"s":4,"o":5,"x":208.35,"p":25713.8},{"s":4,"o":6,"x":206.6,"p":25713.3},{"s":4,"o":7,"x":208.6,"p":25712.8},{"s":4,"o":8,"x":210.9,"p":25712.5},
{"s":5,"o":0,"x":203.4,"p":25708.3},{"s":5,"o":1,"x":203.6,"p":25706.9},{"s":5,"o":2,"x":205.2,"p":25704.1},{"s":5,"o":3,"x":206.1,"p":25701.6},{"s":5,"o":4,"x":206.6,"p":25699.7},{"s":5,"o":5,"x":207.5,"p":25697.9},
{"s":6,"o":0,"x":203.4,"p":25699.7},{"s":6,"o":1,"x":204.7,"p":25701.1},{"s":6,"o":2,"x":205.5,"p":25704.1},{"s":6,"o":3,"x":206.1,"p":25706.3},{"s":6,"o":4,"x":206.5,"p":25708.4},
{"s":7,"o":0,"x":212.1,"p":25631.7},{"s":7,"o":1,"x":213.1,"p":25629.1},{"s":7,"o":2,"x":214.5,"p":25626.5},{"s":7,"o":3,"x":216.5,"p":25623.2},
{"s":8,"o":0,"x":209.7,"p":25622.9},{"s":8,"o":1,"x":211.4,"p":25624.6},{"s":8,"o":2,"x":213.1,"p":25628},{"s":8,"o":3,"x":214.5,"p":25630.1},{"s":8,"o":4,"x":216.2,"p":25631.7},
{"s":9,"o":0,"x":208.1,"p":25618.7},{"s":9,"o":1,"x":210,"p":25619},{"s":9,"o":2,"x":212,"p":25617.6},{"s":9,"o":3,"x":211.6,"p":25615.9},{"s":9,"o":4,"x":209.3,"p":25616.5},
{"s":10,"o":0,"x":211.6,"p":25615.9},{"s":10,"o":1,"x":212.7,"p":25613.6},{"s":10,"o":2,"x":212.6,"p":25611},{"s":10,"o":3,"x":210,"p":25609.4},{"s":10,"o":4,"x":209.1,"p":25609.2},{"s":10,"o":5,"x":207.8,"p":25609.4},
{"s":11,"o":0,"x":231.3,"p":25670},{"s":11,"o":1,"x":232.4,"p":25667.5},{"s":11,"o":2,"x":233.9,"p":25664.8},{"s":11,"o":3,"x":235.4,"p":25661.5},
{"s":12,"o":0,"x":231.5,"p":25662.9},{"s":12,"o":1,"x":233.8,"p":25665.2},{"s":12,"o":2,"x":236.1,"p":25669.3},
{"s":13,"o":0,"x":228.8,"p":25661.1},{"s":13,"o":1,"x":230.4,"p":25662.9},{"s":13,"o":2,"x":232.2,"p":25665.7},
{"s":14,"o":0,"x":231.4,"p":25682.4},{"s":14,"o":1,"x":230.6,"p":25679.2},{"s":14,"o":2,"x":234.5,"p":25679.8},
{"s":15,"o":0,"x":234.1,"p":25683.4},{"s":15,"o":1,"x":234.5,"p":25681.5},{"s":15,"o":2,"x":233.8,"p":25678.8},{"s":15,"o":3,"x":233.2,"p":25676.2},{"s":15,"o":4,"x":232.5,"p":25674.3},
{"s":16,"o":0,"x":246.4,"p":25703.8},{"s":16,"o":1,"x":245.3,"p":25702.6},{"s":16,"o":2,"x":244,"p":25702.6},{"s":16,"o":3,"x":243.35,"p":25701.9},{"s":16,"o":4,"x":242.5,"p":25698.3},{"s":16,"o":5,"x":241.5,"p":25695.9},{"s":16,"o":6,"x":244,"p":25695.7},{"s":16,"o":7,"x":244.8,"p":25693.1},{"s":16,"o":8,"x":244.8,"p":25690.9},{"s":16,"o":9,"x":243.65,"p":25690.2},{"s":16,"o":10,"x":240.7,"p":25690.9},
{"s":17,"o":0,"x":243.65,"p":25689.7},{"s":17,"o":1,"x":243.65,"p":25687.3},{"s":17,"o":2,"x":244.95,"p":25683.7},{"s":17,"o":3,"x":246.3,"p":25679.4},
{"s":18,"o":0,"x":242.2,"p":25681.4},{"s":18,"o":1,"x":243.5,"p":25682.6},{"s":18,"o":2,"x":244.8,"p":25685.7},{"s":18,"o":3,"x":246.5,"p":25689.9},
{"s":19,"o":0,"x":252,"p":25680.9},{"s":19,"o":1,"x":252.9,"p":25680.7},{"s":19,"o":2,"x":254.8,"p":25677.9},{"s":19,"o":3,"x":256.2,"p":25677.1},{"s":19,"o":4,"x":257.4,"p":25674.4},{"s":19,"o":5,"x":258.4,"p":25672.5},
{"s":20,"o":0,"x":250.4,"p":25675},{"s":20,"o":1,"x":252.2,"p":25676},{"s":20,"o":2,"x":254.4,"p":25678.5},{"s":20,"o":3,"x":256.2,"p":25680.1},
{"s":21,"o":0,"x":255.9,"p":25670.1},{"s":21,"o":1,"x":254.2,"p":25670.3},{"s":21,"o":2,"x":252.8,"p":25668.2},{"s":21,"o":3,"x":252,"p":25665.6},{"s":21,"o":4,"x":252.2,"p":25663.1},{"s":21,"o":5,"x":254.2,"p":25663.1},{"s":21,"o":6,"x":255.6,"p":25665.6},{"s":21,"o":7,"x":255.6,"p":25666.7},{"s":21,"o":8,"x":253.6,"p":25667.1},{"s":21,"o":9,"x":252.2,"p":25665.9},
{"s":22,"o":0,"x":270.2,"p":25752.6},{"s":22,"o":1,"x":272.8,"p":25752.2},{"s":22,"o":2,"x":275.7,"p":25752.5},{"s":22,"o":3,"x":275.5,"p":25750.1},{"s":22,"o":4,"x":273.9,"p":25746.8},{"s":22,"o":5,"x":272.8,"p":25742.7},{"s":22,"o":6,"x":272.1,"p":25740.2},
{"s":23,"o":0,"x":271.9,"p":25739.4},{"s":23,"o":1,"x":273.6,"p":25737.5},{"s":23,"o":2,"x":274.95,"p":25734.1},{"s":23,"o":3,"x":275.9,"p":25731.9},
{"s":24,"o":0,"x":273.5,"p":25731.8},{"s":24,"o":1,"x":274.95,"p":25734.4},{"s":24,"o":2,"x":276.8,"p":25737.5},{"s":24,"o":3,"x":278,"p":25739.5},
{"s":25,"o":0,"x":295.2,"p":25729.8},{"s":25,"o":1,"x":296,"p":25733.3},{"s":25,"o":2,"x":297.2,"p":25740.8},{"s":25,"o":3,"x":297.3,"p":25737.2},{"s":25,"o":4,"x":298,"p":25733.9},{"s":25,"o":5,"x":298.3,"p":25730.8},
{"s":26,"o":0,"x":296,"p":25733.2},{"s":26,"o":1,"x":297.9,"p":25733.8},
{"s":27,"o":0,"x":357.7,"p":25686.2},{"s":27,"o":1,"x":359.2,"p":25683.2},{"s":27,"o":2,"x":360.05,"p":25680.7},{"s":27,"o":3,"x":361.5,"p":25678.6},
{"s":28,"o":0,"x":358,"p":25679.9},{"s":28,"o":1,"x":360.05,"p":25681.5},{"s":28,"o":2,"x":362.9,"p":25684.3},
{"s":29,"o":0,"x":360.35,"p":25699.7},{"s":29,"o":1,"x":358,"p":25700},{"s":29,"o":2,"x":357.4,"p":25698.1},{"s":29,"o":3,"x":358.6,"p":25696.1},{"s":29,"o":4,"x":360.35,"p":25693.9},{"s":29,"o":5,"x":360.8,"p":25692.5},{"s":29,"o":6,"x":359.9,"p":25690.5},{"s":29,"o":7,"x":358.6,"p":25692.5},{"s":29,"o":8,"x":358.6,"p":25694.8},{"s":29,"o":9,"x":360.05,"p":25697.5},{"s":29,"o":10,"x":360.35,"p":25699.7},
{"s":30,"o":0,"x":365.4,"p":25708.8},{"s":30,"o":1,"x":364.8,"p":25707.4},{"s":30,"o":2,"x":363.6,"p":25708.8},{"s":30,"o":3,"x":362.7,"p":25706.9},{"s":30,"o":4,"x":362.8,"p":25704.1},{"s":30,"o":5,"x":363.9,"p":25703.8},{"s":30,"o":6,"x":364.8,"p":25706.3},{"s":30,"o":7,"x":364.7,"p":25701.9},{"s":30,"o":8,"x":364.2,"p":25699.6},
{"s":31,"o":0,"x":363,"p":25695.9},{"s":31,"o":1,"x":364.5,"p":25692.5},{"s":31,"o":2,"x":365.7,"p":25688.7},{"s":31,"o":3,"x":367.45,"p":25686.5},
{"s":32,"o":0,"x":362.8,"p":25687.1},{"s":32,"o":1,"x":364.2,"p":25690.3},{"s":32,"o":2,"x":365.3,"p":25693.1},
{"s":33,"o":0,"x":369.8,"p":25675.3},{"s":33,"o":1,"x":370.4,"p":25678.8},{"s":33,"o":2,"x":370.9,"p":25682.6},{"s":33,"o":3,"x":371.9,"p":25679.9},{"s":33,"o":4,"x":373.1,"p":25675.5},
{"s":34,"o":0,"x":370.9,"p":25677.1},{"s":34,"o":1,"x":373.5,"p":25677.7},
{"s":35,"o":0,"x":383.4,"p":25702.2},{"s":35,"o":1,"x":384,"p":25705.8},{"s":35,"o":2,"x":384.6,"p":25709},{"s":35,"o":3,"x":386.1,"p":25705.8},{"s":35,"o":4,"x":387.1,"p":25702.4},
{"s":36,"o":0,"x":383.9,"p":25704.6},{"s":36,"o":1,"x":386.5,"p":25705}],
"header":[{"x":-0.34,"p":25863.25,"t":"NQH6.CME[M]  1 Min  #2 13:56:00 Market Structure MSL /MSH","k":"b"},{"x":52.2,"p":25863.25,"t":"MSH: 0.00","k":"m"},{"x":61.3,"p":25863.25,"t":"MSL: 0.00","k":"l"},{"x":70.2,"p":25863.25,"t":"(Yes, 5, No)","k":"b"}],
"last":[{"a":417,"b":424.4,"p1":25719.75,"p2":25716,"p":25717.85,"t":"25718.00"}]},
"layer":[
{"data":{"name":"levels"},"mark":{"type":"rule","stroke":"#dcdcdc","strokeWidth":1,"strokeDash":[4,3],"clip":true},"encoding":{"x":{"field":"a","type":"quantitative","scale":{"domain":[-0.7778,416.4444],"nice":false,"zero":false},"axis":null},"x2":{"field":"b"},"y":{"field":"p","type":"quantitative","scale":{"domain":[25549.96,25861.86],"nice":false,"zero":false},"axis":{"orient":"right","title":null,"values":[25550,25555,25560,25565,25570,25575,25580,25585,25590,25595,25600,25605,25610,25615,25620,25625,25630,25635,25640,25645,25650,25655,25660,25665,25670,25675,25680,25685,25690,25695,25700,25705,25710,25715,25720,25725,25730,25735,25740,25745,25750,25755,25760,25765,25770,25775,25780,25785,25790,25795,25800,25805,25810,25815,25820,25825,25830,25835,25840,25845,25850,25855,25860],"format":".2f","grid":false,"domain":false,"ticks":false,"labelPadding":5,"labelFont":"Lato","labelFontSize":16,"labelColor":"#111111","labelOverlap":false,"labelBound":false,"labelFlush":false}}}},
{"data":{"name":"candles"},"mark":{"type":"rule","strokeWidth":2,"clip":true},"encoding":{"x":{"field":"i","type":"quantitative","scale":{"domain":[-0.7778,416.4444],"nice":false,"zero":false},"axis":null},"y":{"field":"l","type":"quantitative","scale":{"domain":[25549.96,25861.86],"nice":false,"zero":false},"axis":null},"y2":{"field":"h"},"stroke":{"field":"k","type":"nominal","legend":null,"scale":{"domain":["u","d","m","l"],"range":["#000000","#000000","#FF00FF","#FF8000"]}}}},
{"data":{"name":"candles"},"mark":{"type":"bar","orient":"vertical","size":5,"strokeWidth":1,"clip":true},"encoding":{"x":{"field":"i","type":"quantitative","scale":{"domain":[-0.7778,416.4444],"nice":false,"zero":false},"axis":null},"y":{"field":"o","type":"quantitative","scale":{"domain":[25549.96,25861.86],"nice":false,"zero":false},"axis":null},"y2":{"field":"c"},"fill":{"field":"k","type":"nominal","legend":null,"scale":{"domain":["u","d","m","l","b"],"range":["#00E600","#FF0000","#FF00FF","#FF8000","#222222"]}},"stroke":{"field":"k","type":"nominal","legend":null,"scale":{"domain":["u","d","m","l"],"range":["#000000","#000000","#FF00FF","#FF8000"]}}}},
{"data":{"name":"candles"},"transform":[{"filter":"datum.t=='a'"}],"mark":{"type":"point","shape":"triangle-down","size":81,"filled":true,"color":"#111111","opacity":1,"yOffset":3.5},"encoding":{"x":{"field":"i","type":"quantitative","scale":{"domain":[-0.7778,416.4444],"nice":false,"zero":false},"axis":null},"y":{"field":"h","type":"quantitative","scale":{"domain":[25549.96,25861.86],"nice":false,"zero":false},"axis":null}}},
{"data":{"name":"candles"},"transform":[{"filter":"datum.t=='b'"}],"mark":{"type":"point","shape":"triangle-up","size":81,"filled":true,"color":"#111111","opacity":1,"yOffset":2},"encoding":{"x":{"field":"i","type":"quantitative","scale":{"domain":[-0.7778,416.4444],"nice":false,"zero":false},"axis":null},"y":{"field":"l","type":"quantitative","scale":{"domain":[25549.96,25861.86],"nice":false,"zero":false},"axis":null}}},
{"data":{"name":"labels"},"mark":{"type":"text","font":"DejaVu Sans","fontSize":13,"align":"center","baseline":"middle"},"encoding":{"x":{"field":"i","type":"quantitative","scale":{"domain":[-0.7778,416.4444],"nice":false,"zero":false},"axis":null},"y":{"field":"p","type":"quantitative","scale":{"domain":[25549.96,25861.86],"nice":false,"zero":false},"axis":null},"text":{"field":"t"},"fill":{"field":"k","type":"nominal","legend":null,"scale":{"domain":["u","d","m","l","b"],"range":["#00E600","#FF0000","#FF00FF","#FF8000","#222222"]}}}},
{"data":{"name":"strokes"},"mark":{"type":"line","stroke":"#F01414","strokeWidth":2,"strokeJoin":"round","strokeCap":"round","interpolate":"linear"},"encoding":{"x":{"field":"x","type":"quantitative","scale":{"domain":[-0.7778,416.4444],"nice":false,"zero":false},"axis":null},"y":{"field":"p","type":"quantitative","scale":{"domain":[25549.96,25861.86],"nice":false,"zero":false},"axis":null},"detail":{"field":"s"},"order":{"field":"o","type":"quantitative"}}},
{"data":{"name":"last"},"mark":{"type":"rect","fill":"#F7F01E"},"encoding":{"x":{"field":"a","type":"quantitative","scale":{"domain":[-0.7778,416.4444],"nice":false,"zero":false},"axis":null},"x2":{"field":"b"},"y":{"field":"p1","type":"quantitative","scale":{"domain":[25549.96,25861.86],"nice":false,"zero":false},"axis":null},"y2":{"field":"p2"}}},
{"data":{"name":"last"},"mark":{"type":"text","font":"Lato","fontSize":16,"align":"left","baseline":"middle","fill":"#111111"},"encoding":{"x":{"field":"a","type":"quantitative","scale":{"domain":[-0.7778,416.4444],"nice":false,"zero":false},"axis":null},"y":{"field":"p","type":"quantitative","scale":{"domain":[25549.96,25861.86],"nice":false,"zero":false},"axis":null},"text":{"field":"t"}}},
{"data":{"name":"header"},"mark":{"type":"text","font":"Lato","fontSize":16.5,"align":"left","baseline":"middle"},"encoding":{"x":{"field":"x","type":"quantitative","scale":{"domain":[-0.7778,416.4444],"nice":false,"zero":false},"axis":null},"y":{"field":"p","type":"quantitative","scale":{"domain":[25549.96,25861.86],"nice":false,"zero":false},"axis":null},"text":{"field":"t"},"fill":{"field":"k","type":"nominal","legend":null,"scale":{"domain":["u","d","m","l","b"],"range":["#00E600","#FF0000","#FF00FF","#FF8000","#222222"]}}}}
]}
